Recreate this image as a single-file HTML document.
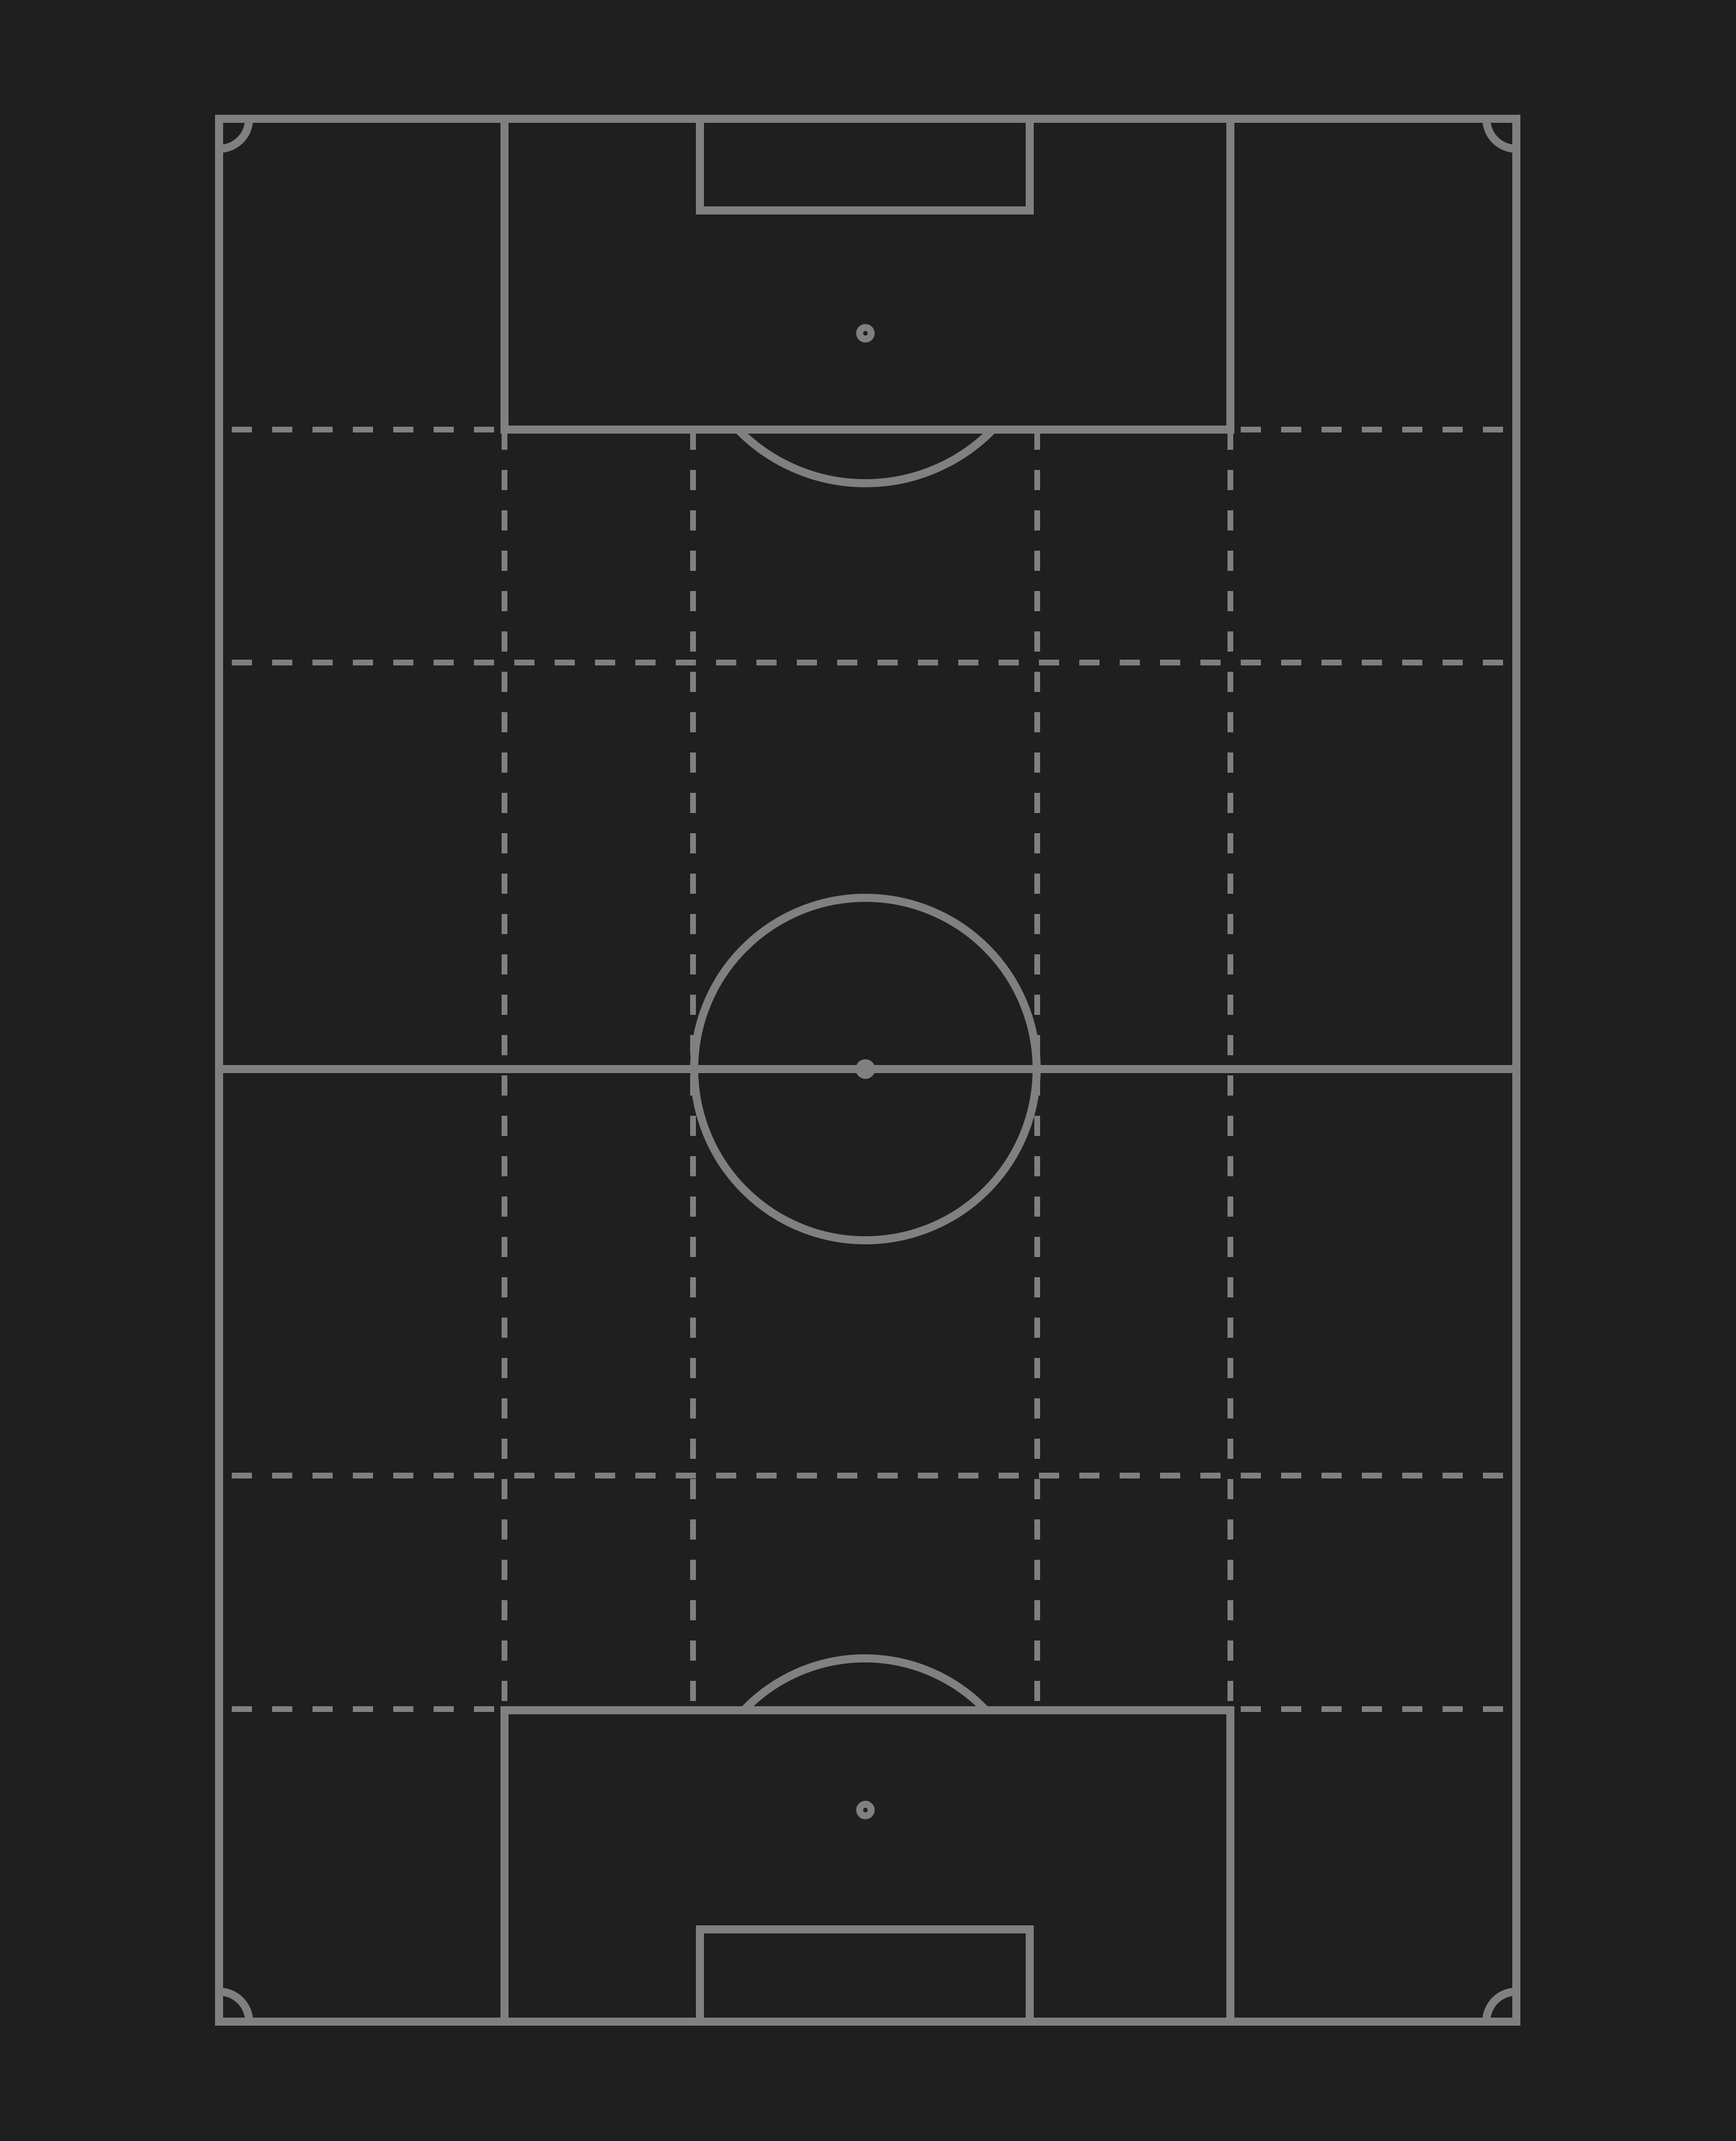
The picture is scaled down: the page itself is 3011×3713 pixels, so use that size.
<!DOCTYPE html>
<html><head><meta charset="utf-8"><style>html,body{margin:0;padding:0;background:#1f1f1f}svg{display:block}</style></head>
<body>
<svg width="3011" height="3713" viewBox="0 0 3011 3713" xmlns="http://www.w3.org/2000/svg">
<rect x="0" y="0" width="3011" height="3713" fill="#1f1f1f"/>
<g fill="none" stroke="#808080" stroke-width="14">
 <g stroke-width="10" stroke-dasharray="35 35">
  <line x1="402" y1="745" x2="2611" y2="745"/>
  <line x1="402" y1="1149" x2="2611" y2="1149"/>
  <line x1="402" y1="2559" x2="2611" y2="2559"/>
  <line x1="402" y1="2964" x2="2611" y2="2964"/>
 </g>
 <g stroke-width="10" stroke-dasharray="35 35" stroke-dashoffset="7">
  <line x1="875" y1="752" x2="875" y2="2960"/>
  <line x1="1202" y1="752" x2="1202" y2="2960"/>
  <line x1="1799" y1="752" x2="1799" y2="2960"/>
  <line x1="2134" y1="752" x2="2134" y2="2960"/>
 </g>
 <rect x="380" y="206" width="2250" height="3300"/>
 <line x1="380" y1="1854" x2="2630" y2="1854"/>
 <circle cx="1501" cy="1854" r="297"/>
 <rect x="875" y="206" width="1259" height="539"/>
 <rect x="1214" y="206" width="572" height="159"/>
 <path d="M1280 745 A 309 309 0 0 0 1722 745"/>
 <rect x="875" y="2966" width="1259" height="540"/>
 <rect x="1214" y="3346" width="572" height="160"/>
 <path d="M1290 2966 A 290 290 0 0 1 1710 2966"/>
 <path d="M380 258 A 52 52 0 0 0 432 206 M2578 206 A 52 52 0 0 0 2630 258 M380 3454 A 52 52 0 0 1 432 3506 M2578 3506 A 52 52 0 0 1 2630 3454"/>
 <circle cx="1501" cy="578" r="10" stroke-width="12"/>
 <circle cx="1501" cy="3139" r="10" stroke-width="12"/>
</g>
<circle cx="1501" cy="1854" r="17" fill="#808080"/>
</svg>
</body></html>
